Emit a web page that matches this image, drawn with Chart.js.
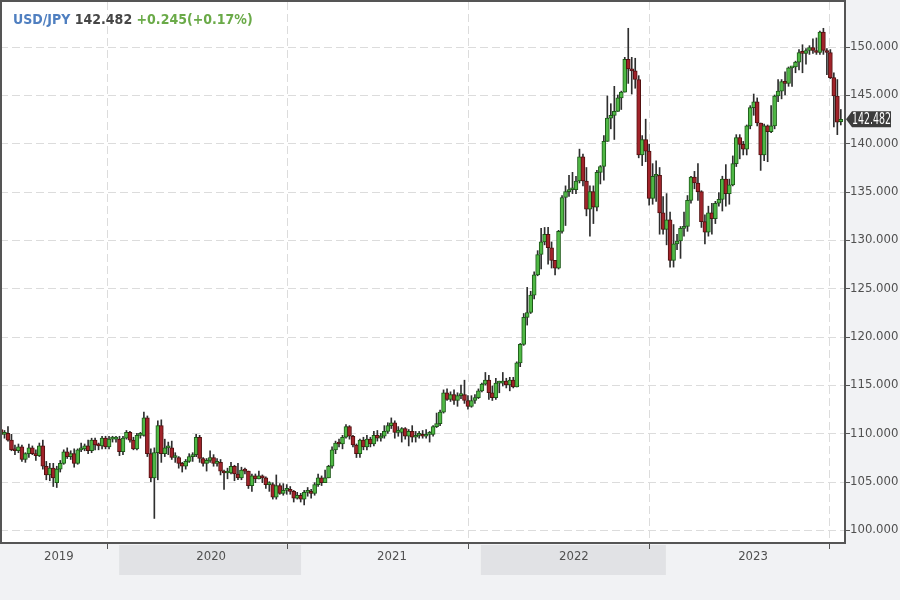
<!DOCTYPE html>
<html><head><meta charset="utf-8">
<script src="https://cdn.jsdelivr.net/npm/chart.js@4.4.0/dist/chart.umd.min.js"></script>
<style>
html,body{margin:0;padding:0;background:#f1f2f4;}
#wrap{position:relative;width:900px;height:600px;overflow:hidden;}
#title{position:absolute;left:13px;top:12px;line-height:15px;font-weight:bold;font-size:14px;font-family:'Liberation Sans Narrow','DejaVu Sans Condensed','Liberation Sans',sans-serif;white-space:nowrap;}
</style></head><body>
<div id="wrap"><canvas id="c" width="900" height="600"></canvas><div id="title"></div></div>
<script>
const symbol = 'USD/JPY';
const lastPrice = 142.482;
const change = 0.245;
const changePct = 0.17;

const open = [
110.4,109.9,110.0,109.3,108.3,108.2,108.6,107.3,107.9,108.5,
107.9,107.7,108.7,106.6,105.7,106.4,104.9,106.3,106.9,108.1,
107.6,107.9,106.9,108.3,108.4,108.7,108.2,109.3,108.8,108.7,
109.5,108.6,109.4,109.4,109.4,108.1,109.5,110.1,109.3,108.4,
109.8,109.8,111.6,107.9,105.4,108.0,110.8,107.9,108.5,108.5,
107.5,107.5,106.9,106.6,107.1,107.6,107.8,109.6,107.4,106.9,
107.2,107.5,106.9,107.0,106.1,105.9,105.9,106.6,105.8,105.4,
106.2,106.1,104.6,105.6,105.3,105.6,105.4,104.7,104.7,103.4,
104.6,103.8,104.1,104.2,104.0,103.3,103.6,103.2,103.9,103.9,
103.8,104.7,105.4,104.9,105.4,106.6,108.3,109.0,108.9,109.6,
110.7,109.7,108.8,107.9,109.3,108.6,109.4,108.9,109.8,109.5,
109.7,110.2,110.8,111.1,110.1,110.1,110.5,109.7,110.2,109.6,
109.8,109.8,109.7,109.9,109.9,110.7,111.0,112.2,114.2,113.5,
114.0,113.4,113.9,114.0,113.4,112.8,113.4,113.7,114.4,115.1,
115.5,114.2,113.7,115.2,115.2,115.4,115.0,115.5,114.8,117.3,
119.2,122.0,122.5,124.3,126.4,128.5,129.8,130.6,129.2,127.9,
127.1,130.9,134.4,135.0,135.2,135.2,136.1,138.6,136.1,133.2,
135.0,133.4,137.0,137.6,140.2,142.6,142.9,143.3,144.7,145.3,
148.7,147.7,147.5,146.6,138.8,140.4,139.2,134.3,136.6,136.7,
132.8,131.1,132.1,127.9,129.6,129.9,131.2,131.4,134.1,136.5,
135.9,135.0,131.9,130.8,132.8,132.2,133.8,134.2,136.3,134.8,
135.7,137.9,140.6,139.9,139.4,141.8,143.7,144.3,142.1,138.8,
141.8,141.2,141.8,144.9,145.4,146.4,146.2,147.8,147.9,148.4,
149.4,149.3,149.6,149.9,149.6,149.4,151.5,149.6,149.4,146.8,
144.9,142.237];

const high = [
110.9,110.3,110.7,109.9,108.8,108.9,108.8,108.0,108.9,108.7,
108.3,109.0,109.3,107.1,106.9,106.9,106.6,107.2,108.3,108.5,
108.2,108.4,108.4,109.0,108.9,109.3,109.5,109.5,109.0,109.7,
109.7,109.7,109.7,109.7,109.7,109.7,110.3,110.2,109.6,110.0,
110.1,112.2,111.8,108.4,108.5,111.3,111.4,109.4,109.1,109.2,
108.0,107.6,107.0,107.3,107.9,108.0,109.9,109.8,107.5,107.4,
108.2,107.8,107.4,107.3,106.2,106.4,107.0,106.7,106.9,106.5,
106.4,106.1,105.8,105.8,106.1,105.7,105.5,105.0,104.9,105.7,
104.8,104.8,104.7,104.5,104.1,103.9,103.8,104.1,104.4,104.2,
104.9,105.8,105.6,106.2,106.7,108.6,109.2,109.4,109.8,110.9,
110.8,109.8,108.9,109.4,109.6,109.8,109.6,110.2,110.3,110.0,
110.8,111.1,111.6,111.3,110.7,110.6,110.6,110.4,110.8,110.2,
110.2,110.3,110.4,110.2,110.8,112.1,112.4,114.5,114.6,114.3,
114.5,114.2,115.0,115.5,113.9,113.9,114.0,114.6,115.2,116.3,
116.0,114.9,115.7,115.4,116.3,115.7,115.8,115.8,117.4,119.3,
122.4,125.1,124.7,126.7,128.9,131.2,131.3,131.3,129.8,127.9,
131.0,134.6,135.6,136.7,137.0,136.6,139.4,138.9,137.5,135.6,
135.6,137.2,137.7,140.8,144.9,144.1,145.9,145.0,145.4,148.9,
151.9,148.9,148.8,147.0,140.8,142.5,139.9,137.9,138.2,137.5,
134.5,134.8,132.9,131.6,130.6,131.4,132.9,134.6,136.6,137.1,
137.9,135.1,132.6,133.5,133.8,134.0,134.9,136.6,137.8,136.3,
138.7,140.9,140.9,140.2,141.9,143.9,145.1,144.7,142.1,142.0,
141.9,143.9,145.0,146.6,146.6,147.4,147.9,147.9,148.5,149.7,
150.2,149.8,150.1,150.8,150.9,151.6,151.9,149.8,149.7,147.3,
146.6,143.5];

const low = [
109.5,109.5,109.2,108.2,107.8,108.0,107.1,107.0,107.5,107.8,
107.2,107.6,106.3,105.2,105.1,104.5,104.4,106.0,106.8,107.4,
107.3,106.5,106.8,108.1,108.2,107.9,108.0,108.3,108.3,108.4,
108.4,108.4,109.1,109.1,107.7,107.8,109.4,109.1,108.3,108.3,
109.5,109.7,107.6,105.0,101.2,105.2,107.0,107.6,107.8,107.3,
107.0,106.4,106.0,106.3,107.0,107.1,107.6,107.0,106.6,106.1,
107.0,106.6,106.6,105.7,104.2,105.3,105.8,105.1,105.2,105.2,
105.8,104.3,104.0,104.9,105.3,104.9,104.3,104.0,103.2,103.2,
103.7,103.6,103.7,103.7,102.9,103.2,102.9,102.6,103.5,103.3,
103.6,104.5,104.6,104.9,105.4,106.4,107.9,108.6,108.4,109.5,
109.4,108.6,107.5,107.5,108.3,108.3,108.6,108.7,109.2,109.2,
109.5,110.0,110.5,109.5,109.7,109.1,109.4,108.7,109.1,109.1,
109.5,109.5,109.5,109.1,109.7,110.6,110.8,112.1,113.4,113.3,
113.0,112.8,113.6,113.1,112.5,112.7,113.1,113.6,114.3,115.0,
113.5,113.4,113.5,114.2,114.9,114.7,114.4,114.7,114.8,116.9,
119.1,121.2,122.4,123.9,126.3,127.0,129.5,127.5,127.1,126.4,
127.0,130.7,131.5,134.5,134.8,134.8,135.9,135.6,132.5,130.4,
131.7,133.0,135.8,136.2,140.2,141.5,140.4,143.3,143.5,145.3,
146.2,145.1,145.7,138.5,137.7,138.1,133.6,133.7,134.0,130.6,
130.6,129.5,127.2,127.2,129.0,128.1,130.4,130.9,133.8,135.3,
134.1,131.3,129.6,130.4,130.6,131.7,133.5,133.0,133.5,133.7,
135.6,137.6,138.4,138.8,138.8,141.5,142.9,141.8,137.2,138.2,
138.1,141.1,141.5,144.3,144.6,145.0,145.9,145.9,147.3,147.6,
147.3,148.2,149.2,149.3,149.2,149.2,149.2,147.1,146.7,141.7,
140.9,141.9];

const close = [
109.9,110.0,109.3,108.3,108.2,108.6,107.3,107.9,108.5,107.9,
107.7,108.7,106.6,105.7,106.4,105.4,106.3,106.9,108.1,107.6,
107.9,106.9,108.3,108.4,108.7,108.2,109.3,108.8,108.7,109.5,
108.6,109.4,109.4,109.4,108.1,109.5,110.1,109.3,108.4,109.8,
109.8,111.6,107.9,105.4,108.0,110.8,107.9,108.5,108.5,107.5,
107.5,106.9,106.6,107.1,107.6,107.8,109.6,107.4,106.9,107.2,
107.5,106.9,107.0,106.1,105.9,105.9,106.6,105.8,105.4,106.2,
106.1,104.6,105.6,105.3,105.6,105.4,104.7,104.7,103.4,104.6,
103.8,104.1,104.2,104.0,103.3,103.6,103.2,103.9,103.9,103.8,
104.7,105.4,104.9,105.4,106.6,108.3,109.0,108.9,109.6,110.7,
109.7,108.8,107.9,109.3,108.6,109.4,108.9,109.8,109.5,109.7,
110.2,110.8,111.1,110.1,110.1,110.5,109.7,110.2,109.6,109.8,
109.8,109.7,109.9,109.9,110.7,111.0,112.2,114.2,113.5,114.0,
113.4,113.9,114.0,113.4,112.8,113.4,113.7,114.4,115.1,115.5,
114.2,113.7,115.2,115.2,115.4,115.0,115.5,114.8,117.3,119.2,
122.0,122.5,124.3,126.4,128.5,129.8,130.6,129.2,127.9,127.1,
130.9,134.4,135.0,135.2,135.2,136.1,138.6,136.1,133.2,135.0,
133.4,137.0,137.6,140.2,142.6,142.9,143.3,144.7,145.3,148.7,
147.7,147.5,146.6,138.8,140.4,139.2,134.3,136.6,136.7,132.8,
131.1,132.1,127.9,129.6,129.9,131.2,131.4,134.1,136.5,135.9,
135.0,131.9,130.8,132.8,132.2,133.8,134.2,136.3,134.8,135.7,
137.9,140.6,139.9,139.4,141.8,143.7,144.3,142.1,138.8,141.8,
141.2,141.8,144.9,145.4,146.4,146.2,147.8,147.9,148.4,149.4,
149.3,149.6,149.9,149.6,149.4,151.5,149.6,149.4,146.8,144.9,
142.2,142.482];

const yTicks = [100,105,110,115,120,125,130,135,140,145,150];
const yearLabels = ['2019','2020','2021','2022','2023'];
const yearLabelPos = [16.6,60.3,112.2,164.4,215.8];
const yearGridPos = [30.4,82.1,134.0,185.9,237.6];
const shadedYears = [[33.9,86.1],[137.7,190.8]];

const FONT = "'Liberation Sans Narrow','DejaVu Sans Condensed','DejaVu Sans Mono',monospace";
const UP_FILL = '#4fb845', UP_EDGE = '#1d5a18';
const DN_FILL = '#a1232a', DN_EDGE = '#521010';
const FRAME = '#555555';

document.getElementById('title').innerHTML =
  '<span style="color:#4f7fc0">' + symbol + '</span> ' +
  '<span style="color:#464646">' + lastPrice.toFixed(3) + '</span> ' +
  '<span style="color:#6aaa48">' + (change >= 0 ? '+' : '') + change.toFixed(3) +
  '(' + (changePct >= 0 ? '+' : '') + changePct.toFixed(2) + '%)</span>';

const decor = {
  id: 'decor',
  beforeDraw(chart) {
    const {ctx, chartArea: a, scales: {x}} = chart;
    ctx.save();
    ctx.fillStyle = '#ffffff';
    ctx.fillRect(a.left, a.top, a.right - a.left, a.bottom - a.top);
    ctx.fillStyle = '#e1e2e5';
    shadedYears.forEach(([s, e]) => {
      const x1 = x.getPixelForValue(s), x2 = x.getPixelForValue(e);
      ctx.fillRect(x1, a.bottom + 2, x2 - x1, 30);
    });
    ctx.restore();
  },
  beforeDatasetsDraw(chart) {
    const {ctx, chartArea: a, scales: {x, y}} = chart;
    ctx.save();
    ctx.strokeStyle = '#dcdcdc';
    ctx.lineWidth = 1;
    ctx.setLineDash([8, 4]);
    ctx.beginPath();
    yTicks.forEach(v => {
      const py = Math.round(y.getPixelForValue(v)) + 0.5;
      ctx.moveTo(a.left, py); ctx.lineTo(a.right, py);
    });
    yearGridPos.forEach(v => {
      const px = Math.round(x.getPixelForValue(v)) + 0.5;
      ctx.moveTo(px, a.top); ctx.lineTo(px, a.bottom);
    });
    ctx.stroke();
    ctx.restore();
  },
  afterDraw(chart) {
    const {ctx, chartArea: a, scales: {x, y}} = chart;
    ctx.save();
    ctx.setLineDash([]);
    ctx.strokeStyle = FRAME;
    ctx.lineWidth = 2;
    ctx.beginPath();
    ctx.moveTo(a.right, a.bottom); ctx.lineTo(a.left + 1, a.bottom);
    ctx.lineTo(a.left + 1, 1); ctx.lineTo(a.right, 1); ctx.lineTo(a.right, a.bottom + 1);
    ctx.stroke();
    ctx.lineWidth = 1;
    ctx.beginPath();
    yTicks.forEach(v => {
      const py = Math.round(y.getPixelForValue(v)) + 0.5;
      ctx.moveTo(a.right, py); ctx.lineTo(a.right + 5, py);
    });
    yearGridPos.forEach(v => {
      const px = Math.round(x.getPixelForValue(v)) + 0.5;
      ctx.moveTo(px, a.bottom); ctx.lineTo(px, a.bottom + 6);
    });
    ctx.stroke();
    // last price tag
    const last = close[close.length - 1];
    const py = y.getPixelForValue(last);
    const x0 = a.right + 1;
    ctx.fillStyle = '#3c3c3c';
    ctx.beginPath();
    ctx.moveTo(x0, py);
    ctx.lineTo(x0 + 6, py - 8);
    ctx.lineTo(x0 + 45, py - 8);
    ctx.lineTo(x0 + 45, py + 8);
    ctx.lineTo(x0 + 6, py + 8);
    ctx.closePath();
    ctx.fill();
    ctx.fillStyle = '#ffffff';
    ctx.font = '15px ' + FONT;
    ctx.textBaseline = 'middle';
    ctx.textAlign = 'left';
    ctx.translate(x0 + 6, py + 1);
    ctx.scale(0.7, 1);
    ctx.fillText(last.toFixed(3), 0, 0);
    ctx.restore();
  }
};

const upOrDown = (i, a, b) => close[i] >= open[i] ? a : b;

new Chart(document.getElementById('c'), {
  type: 'bar',
  data: {
    datasets: [
      {
        label: 'wick',
        data: open.map((o, i) => ({x: i, y: [low[i], high[i]]})),
        backgroundColor: '#2e2e2e',
        barThickness: 1,
        grouped: false,
        order: 2
      },
      {
        label: 'body',
        data: open.map((o, i) => ({x: i, y: [o, close[i]]})),
        backgroundColor: c => upOrDown(c.dataIndex, UP_FILL, DN_FILL),
        borderColor: c => upOrDown(c.dataIndex, UP_EDGE, DN_EDGE),
        borderWidth: 1,
        borderSkipped: false,
        barThickness: 4,
        minBarLength: 2,
        grouped: false,
        order: 1
      }
    ]
  },
  options: {
    responsive: false,
    devicePixelRatio: 1,
    animation: false,
    events: [],
    layout: {padding: {top: 2, left: 0, right: 0, bottom: 0}},
    plugins: {legend: {display: false}, tooltip: {enabled: false}},
    scales: {
      x: {
        type: 'linear',
        position: 'bottom',
        min: -0.29,
        max: 242.2,
        offset: false,
        grid: {display: false, drawTicks: false},
        border: {display: false},
        afterBuildTicks: s => { s.ticks = yearLabelPos.map(v => ({value: v})); },
        afterFit: s => { s.height = 57; s.paddingLeft = 0; s.paddingRight = 0; },
        ticks: {
          autoSkip: false, maxRotation: 0, padding: 6,
          color: '#505050',
          font: {family: FONT, size: 13},
          callback: (v, i) => yearLabels[i]
        }
      },
      y: {
        type: 'linear',
        position: 'right',
        min: 98.66,
        max: 154.62,
        grid: {display: false, drawTicks: false},
        border: {display: false},
        afterBuildTicks: s => { s.ticks = yTicks.map(v => ({value: v})); },
        afterFit: s => { s.width = 55; s.paddingTop = 0; s.paddingBottom = 0; },
        ticks: {
          padding: 5,
          color: '#505050',
          font: {family: FONT, size: 13},
          callback: v => Number(v).toFixed(3)
        }
      }
    }
  },
  plugins: [decor]
});
</script>
</body></html>
